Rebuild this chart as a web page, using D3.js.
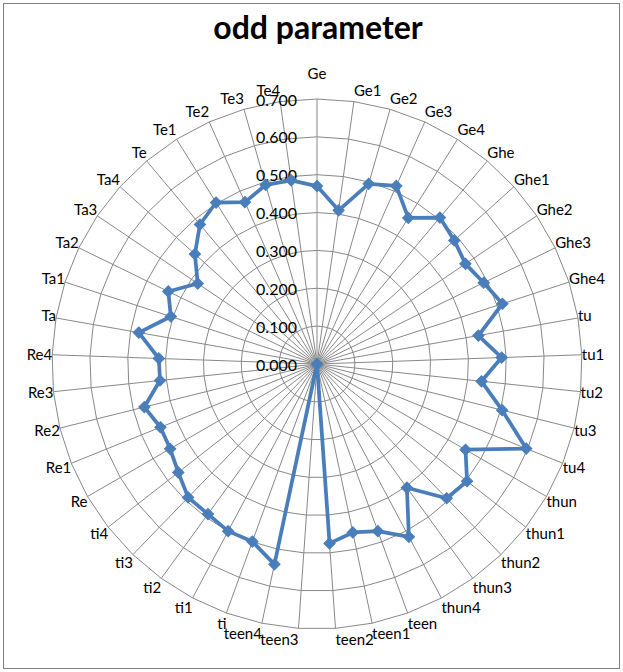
<!DOCTYPE html>
<html><head><meta charset="utf-8">
<script src="https://cdn.jsdelivr.net/npm/d3@7"></script>
<style>html,body{margin:0;padding:0;background:#fff}</style>
</head><body>
<svg id="chart" width="623" height="672"></svg>
<script>
const title = "odd parameter";
const categories = ["Ge","Ge1","Ge2","Ge3","Ge4","Ghe","Ghe1","Ghe2","Ghe3","Ghe4",
  "tu","tu1","tu2","tu3","tu4","thun","thun1","thun2","thun3","thun4",
  "teen","teen1","teen2","teen3","teen4","ti","ti1","ti2","ti3","ti4",
  "Re","Re1","Re2","Re3","Re4","Ta","Ta1","Ta2","Ta3","Ta4",
  "Te","Te1","Te2","Te3","Te4"];
const values = [0.470,0.410,0.495,0.515,0.455,0.505,0.488,0.473,0.490,0.515,
  0.433,0.488,0.437,0.504,0.596,0.453,0.503,0.493,0.404,0.517,
  0.470,0.455,0.475,0.000,0.541,0.499,0.500,0.490,0.490,0.465,
  0.448,0.446,0.470,0.417,0.418,0.478,0.406,0.437,0.380,0.434,
  0.481,0.503,0.468,0.492,0.490];
const tickValues = [0,0.1,0.2,0.3,0.4,0.5,0.6,0.7];
const tickLabels = ["0.000","0.100","0.200","0.300","0.400","0.500","0.600","0.700"];

const W = 623, H = 672, cx = 317, cy = 364, R = 265;
const FONT = "Lato, 'Open Sans', sans-serif";
const BLUE = "#4a7ebb", GRID = "#888888";

const svg = d3.select("#chart");
svg.append("rect").attr("width", W).attr("height", H).attr("fill", "#fff");
svg.append("rect").attr("x", 3.5).attr("y", 3.5).attr("width", 616).attr("height", 665)
  .attr("fill", "none").attr("stroke", "#7f7f7f").attr("stroke-width", 1);

svg.append("text").attr("x", 318).attr("y", 39).attr("text-anchor", "middle")
  .attr("font-family", FONT).attr("font-weight", "bold").attr("font-size", 32)
  .attr("fill", "#000").text(title);

const r = d3.scaleLinear().domain([0, 0.7]).range([0, R]);
const angle = d3.scaleLinear().domain([0, categories.length]).range([0, 2 * Math.PI]);
const g = svg.append("g").attr("transform", `translate(${cx},${cy})`);

// rings
const ringLine = d3.lineRadial().angle((d, i) => angle(i)).radius(d => r(d)).curve(d3.curveLinearClosed);
g.selectAll("path.ring").data(tickValues.filter(v => v > 0)).join("path")
  .attr("class", "ring").attr("d", v => ringLine(categories.map(() => v)))
  .attr("fill", "none").attr("stroke", GRID).attr("stroke-width", 1);
// spokes
g.selectAll("line.spoke").data(categories).join("line").attr("class", "spoke")
  .attr("x1", 0).attr("y1", 0)
  .attr("x2", (d, i) => r(0.7) * Math.sin(angle(i)))
  .attr("y2", (d, i) => -r(0.7) * Math.cos(angle(i)))
  .attr("stroke", GRID).attr("stroke-width", 1);

// tick labels
g.selectAll("text.tick").data(tickValues).join("text").attr("class", "tick")
  .attr("x", -20).attr("y", v => -r(v) + 1).attr("dy", "0.35em")
  .attr("text-anchor", "end").attr("font-family", FONT).attr("font-size", 16)
  .attr("fill", "#000").text((v, i) => tickLabels[i]);

// category labels
const h2 = 9;
g.selectAll("text.cat").data(categories).join("text").attr("class", "cat")
  .each(function (d, i) {
    const a = angle(i), s = Math.sin(a), c = Math.cos(a);
    const ex = r(0.7) * s, ey = -r(0.7) * c;
    let x, y, anchor;
    if (Math.abs(s) < 0.01) {
      anchor = "middle"; x = ex; y = ey - c * (h2 + 16);
    } else {
      anchor = s > 0 ? "start" : "end";
      x = ex; y = ey - c * (h2 + 2);
    }
    d3.select(this).attr("x", x).attr("y", y).attr("dy", "0.35em").attr("text-anchor", anchor);
  })
  .attr("font-family", FONT).attr("font-size", 15).attr("fill", "#000").text(d => d);

// series
const seriesLine = d3.lineRadial().angle((d, i) => angle(i)).radius(d => r(d)).curve(d3.curveLinearClosed);
g.append("path").attr("d", seriesLine(values)).attr("fill", "none")
  .attr("stroke", BLUE).attr("stroke-width", 3.75).attr("stroke-linejoin", "round");
const diamond = d3.symbol().type(d3.symbolSquare).size(64);
g.selectAll("path.mk").data(values).join("path").attr("class", "mk")
  .attr("d", diamond)
  .attr("transform", (v, i) => `translate(${r(v) * Math.sin(angle(i))},${-r(v) * Math.cos(angle(i))}) rotate(45)`)
  .attr("fill", BLUE).attr("stroke", BLUE).attr("stroke-width", 1);
</script>
</body></html>
